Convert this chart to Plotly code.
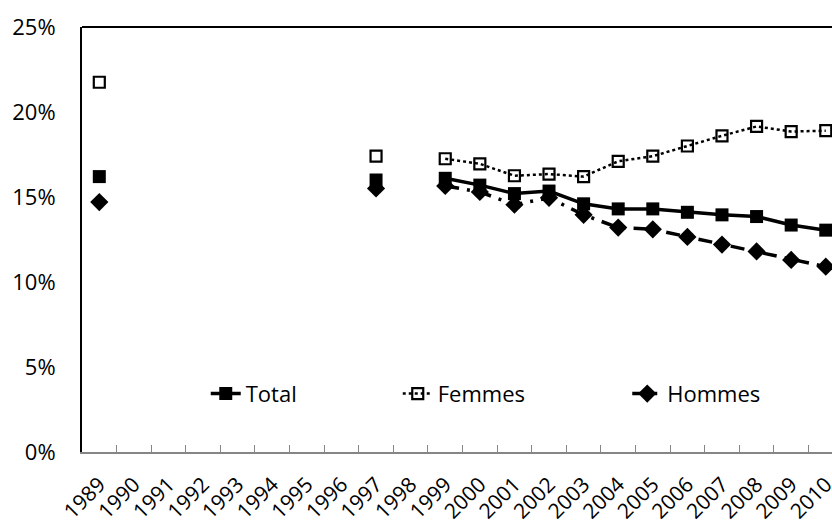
import plotly.graph_objects as go

years = [str(y) for y in range(1989, 2011)]
total = [16.2, None, None, None, None, None, None, None, 16.0, None,
         16.1, 15.7, 15.2, 15.35, 14.6, 14.3, 14.3, 14.1, 13.95, 13.85, 13.35, 13.05]
femmes = [21.75, None, None, None, None, None, None, None, 17.4, None,
          17.25, 16.95, 16.25, 16.35, 16.2, 17.1, 17.4, 18.0, 18.6, 19.15, 18.85, 18.9]
hommes = [14.7, None, None, None, None, None, None, None, 15.5, None,
          15.65, 15.3, 14.55, 14.95, 13.95, 13.2, 13.1, 12.65, 12.2, 11.8, 11.3, 10.9]

FONT = "Open Sans"
fig = go.Figure()
fig.add_trace(go.Scatter(
    x=years, y=total, name="Total", mode="lines+markers",
    line=dict(color="black", width=3.5),
    marker=dict(symbol="square", size=13, color="black"),
    connectgaps=False, cliponaxis=False, legend="legend", showlegend=True))
fig.add_trace(go.Scatter(
    x=years, y=femmes, name="Femmes", mode="lines+markers",
    line=dict(color="black", width=2.5, dash="dot"),
    marker=dict(symbol="square-open", size=11, color="black", line=dict(width=2.2)),
    connectgaps=False, cliponaxis=False, legend="legend2", showlegend=True))
fig.add_trace(go.Scatter(
    x=years, y=hommes, name="Hommes", mode="lines+markers",
    line=dict(color="black", width=3.5, dash="14px,8px,3px,8px"),
    marker=dict(symbol="diamond", size=14, color="black"),
    connectgaps=False, cliponaxis=False, legend="legend3", showlegend=True))

leg = dict(orientation="h", yanchor="middle", xanchor="left", y=0.137,
           bgcolor="rgba(0,0,0,0)", font=dict(family=FONT, size=22, color="black"),
           itemwidth=30)

fig.update_layout(
    width=832, height=520,
    margin=dict(l=82, r=0, t=27, b=68),
    plot_bgcolor="white", paper_bgcolor="white",
    font=dict(family=FONT, size=22, color="black"),
    showlegend=True,
    legend=dict(leg, x=0.165),
    legend2=dict(leg, x=0.421),
    legend3=dict(leg, x=0.727),
    xaxis=dict(type="category", categoryorder="array", categoryarray=years,
               range=[-0.5, 21.18], showgrid=False, tickangle=-45, automargin=False,
               tickson="boundaries", ticks="inside", ticklen=7, tickcolor="#868686",
               showline=True, linecolor="#868686", linewidth=2,
               ticklabelstandoff=10,
               tickfont=dict(family=FONT, size=21, color="black")),
    yaxis=dict(range=[0, 25], dtick=5, ticksuffix="%", showgrid=False, zeroline=False,
               showline=True, linecolor="black", linewidth=2, ticks="", automargin=False,
               ticklabelstandoff=20,
               tickfont=dict(family=FONT, size=22, color="black")),
    shapes=[dict(type="line", xref="paper", yref="paper", x0=0, x1=1.01, y0=1, y1=1,
                 line=dict(color="black", width=2))],
)
fig.write_html("out.html")
